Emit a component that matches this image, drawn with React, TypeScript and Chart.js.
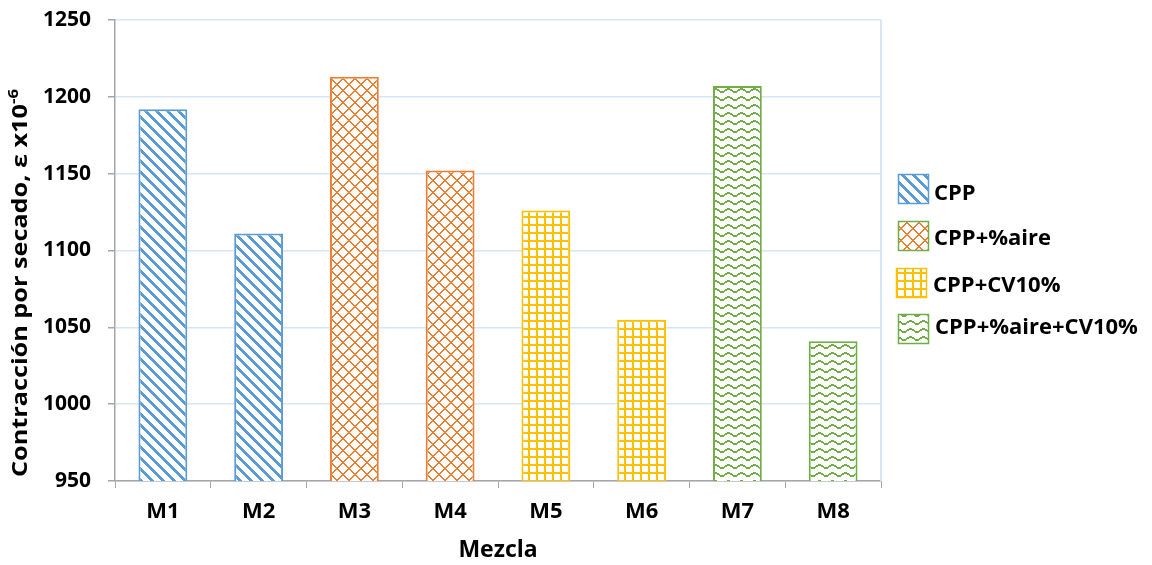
import React, { useEffect, useRef } from "react";
import { Chart, registerables } from "chart.js";

Chart.register(...registerables);

const categories = ["M1", "M2", "M3", "M4", "M5", "M6", "M7", "M8"];
const seriesNames = ["CPP", "CPP+%aire", "CPP+CV10%", "CPP+%aire+CV10%"];
const cppValues = [1192, 1111, null, null, null, null, null, null];
const cppAireValues = [null, null, 1213, 1152, null, null, null, null];
const cppCvValues = [null, null, null, null, 1126, 1055, null, null];
const cppAireCvValues = [null, null, null, null, null, null, 1207, 1041];
const yTickMin = 950;
const yTickMax = 1250;
const yTickStep = 50;
const yTitle = "Contracción por secado, ε x10";
const yTitleSup = "-6";
const xTitle = "Mezcla";

const FONT = "'Open Sans', sans-serif";
const colors: [number, number, number][] = [
  [91, 155, 213],
  [237, 125, 49],
  [255, 192, 0],
  [112, 173, 71],
];
const hex = (c: [number, number, number]) => `rgb(${c[0]},${c[1]},${c[2]})`;

function makePattern(w: number, h: number, col: [number, number, number], test: (x: number, y: number) => boolean) {
  const cv = document.createElement("canvas");
  cv.width = w;
  cv.height = h;
  const ctx = cv.getContext("2d")!;
  const img = ctx.createImageData(w, h);
  for (let y = 0; y < h; y++) {
    for (let x = 0; x < w; x++) {
      const i = (y * w + x) * 4;
      const on = test(x, y);
      img.data[i] = on ? col[0] : 255;
      img.data[i + 1] = on ? col[1] : 255;
      img.data[i + 2] = on ? col[2] : 255;
      img.data[i + 3] = 255;
    }
  }
  ctx.putImageData(img, 0, 0);
  return ctx.createPattern(cv, "repeat")!;
}

const mod = (a: number, n: number) => ((a % n) + n) % n;

export default function App() {
  const ref = useRef<HTMLCanvasElement>(null);
  useEffect(() => {
    document.body.style.margin = "0";
    const stripes = makePattern(11, 11, colors[0], (x, y) => mod(x - y, 11) < 4);
    const diamonds = makePattern(12, 12, colors[1], (x, y) => mod(x + y, 12) < 2 || mod(x - y, 12) < 2);
    const grid = makePattern(8, 8, colors[2], (x, y) => x % 8 < 2 || y % 8 < 2);
    const wave = makePattern(13, 8, colors[3], (x, y) => {
      const f = Math.round(1.6 - 1.6 * Math.cos((2 * Math.PI * x) / 13));
      return mod(y - f, 8) < 2;
    });
    const patterns = [stripes, diamonds, grid, wave];
    const seriesData = [cppValues, cppAireValues, cppCvValues, cppAireCvValues];

    const decor = {
      id: "decor",
      afterDraw(chart: any) {
        const ctx = chart.ctx as CanvasRenderingContext2D;
        const a = chart.chartArea;
        ctx.save();
        ctx.strokeStyle = "#d6e6f4";
        ctx.lineWidth = 2;
        ctx.beginPath();
        ctx.moveTo(a.right, a.top);
        ctx.lineTo(a.right, a.bottom);
        ctx.stroke();

        const sw = [
          { x: 898, y: 174, b: 200, tx: 934, stroke: hex(colors[0]) },
          { x: 898, y: 221, b: 245, tx: 934, stroke: hex(colors[3]) },
          { x: 896, y: 268, b: 292, tx: 933, stroke: hex(colors[2]) },
          { x: 898, y: 314, b: 334, tx: 935, stroke: hex(colors[3]) },
        ];
        ctx.font = `bold 22px ${FONT}`;
        ctx.textBaseline = "alphabetic";
        ctx.textAlign = "left";
        seriesNames.forEach((name, i) => {
          const s = sw[i];
          ctx.fillStyle = patterns[i];
          ctx.fillRect(s.x, s.y, 31, 30);
          ctx.strokeStyle = s.stroke;
          ctx.lineWidth = 1.5;
          ctx.strokeRect(s.x + 0.5, s.y + 0.5, 30, 29);
          ctx.fillStyle = "#000";
          ctx.fillText(name, s.tx, s.b);
        });

        ctx.fillStyle = "#000";
        ctx.font = `bold 23px ${FONT}`;
        ctx.textAlign = "center";
        ctx.fillText(xTitle, (a.left + a.right) / 2, 557);

        ctx.save();
        ctx.translate(27, 0);
        ctx.rotate(-Math.PI / 2);
        ctx.textAlign = "left";
        ctx.font = `bold 21px ${FONT}`;
        const w1 = ctx.measureText(yTitle).width;
        ctx.font = `bold 14px ${FONT}`;
        const w2 = ctx.measureText(yTitleSup).width;
        const total = w1 + w2;
        const targetLen = 388;
        const sx = targetLen / total;
        const center = 283;
        ctx.translate(-(center + targetLen / 2), 0);
        ctx.scale(sx, 1);
        ctx.font = `bold 21px ${FONT}`;
        ctx.fillText(yTitle, 0, 0);
        ctx.font = `bold 14px ${FONT}`;
        ctx.fillText(yTitleSup, w1, -9);
        ctx.restore();
        ctx.restore();
      },
    };

    const chart = new Chart(ref.current!, {
      type: "bar",
      data: {
        labels: categories,
        datasets: seriesNames.map((name, i) => ({
          label: name,
          data: seriesData[i],
          backgroundColor: patterns[i],
          borderColor: hex(colors[i]),
          borderWidth: 2,
          grouped: false,
          categoryPercentage: 1,
          barPercentage: 0.51,
        })),
      },
      options: {
        responsive: false,
        animation: false,
        devicePixelRatio: 1,
        layout: { autoPadding: false, padding: { top: 20, right: 271, left: 0, bottom: 0 } },
        plugins: { legend: { display: false }, tooltip: { enabled: false } },
        scales: {
          x: {
            afterFit: (s: any) => {
              s.height = 84;
              s.paddingTop = 0;
              s.paddingBottom = 0;
            },
            grid: {
              display: true,
              drawOnChartArea: false,
              tickLength: 7,
              tickColor: "#a6a6a6",
              offset: true,
            },
            border: { color: "#a6a6a6", width: 1.5 },
            ticks: {
              color: "#000",
              padding: 11,
              font: { family: FONT, size: 22, weight: "bold" },
            },
          },
          y: {
            min: yTickMin,
            max: yTickMax,
            afterFit: (s: any) => {
              s.width = 115;
              s.paddingTop = 0;
              s.paddingBottom = 0;
            },
            grid: {
              color: "#d6e6f4",
              lineWidth: 1.5,
              tickLength: 7,
              tickColor: "#a6a6a6",
            },
            border: { color: "#a6a6a6", width: 1.5 },
            ticks: {
              stepSize: yTickStep,
              color: "#000",
              padding: 17,
              callback: (v: any) => String(v),
              font: { family: FONT, size: 21, weight: "bold" },
            },
          },
        },
      },
      plugins: [decor],
    });
    return () => chart.destroy();
  }, []);
  return (
    <div style={{ width: 1152, height: 565 }}>
      <canvas ref={ref} width={1152} height={565} />
    </div>
  );
}
